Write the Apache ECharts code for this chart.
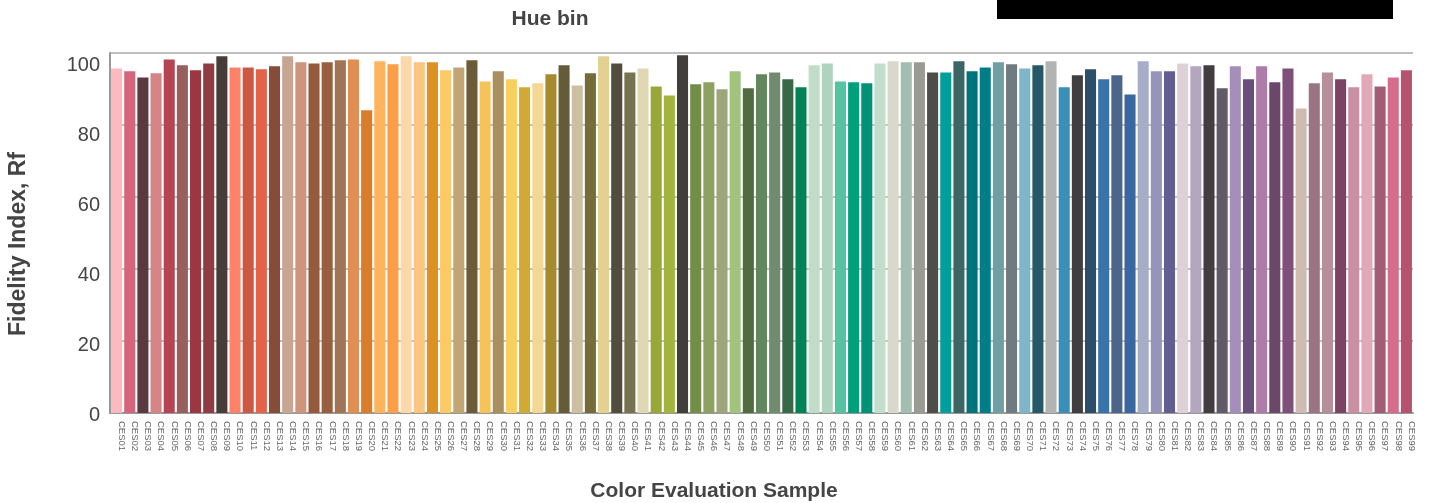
<!DOCTYPE html>
<html>
<head>
<meta charset="utf-8">
<script src="https://cdn.jsdelivr.net/npm/echarts@6/dist/echarts.min.js"></script>
<style>html,body{margin:0;padding:0;background:#fff;}#c{width:1431px;height:503px;}</style>
</head>
<body>
<div id="c"></div>
<script>
const categories = [];
for (let i = 1; i <= 99; i++) categories.push('CES' + (i < 10 ? '0' + i : '' + i));

const rfValues = [
  95.7, 94.9, 93.2, 94.4, 98.2, 96.6, 95.2, 97.1, 99.1, 96.0,
  96.0, 95.5, 96.3, 99.1, 97.4, 97.1, 97.4, 98.0, 98.2, 84.1,
  97.7, 96.9, 99.1, 97.4, 97.4, 95.2, 96.0, 98.0, 92.1, 94.9,
  92.7, 90.5, 91.6, 94.1, 96.6, 91.0, 94.4, 99.1, 97.1, 94.6,
  95.7, 90.7, 88.2, 99.4, 91.3, 91.9, 89.9, 94.9, 90.2, 94.1,
  94.6, 92.7, 90.5, 96.6, 97.1, 92.1, 91.9, 91.6, 97.1, 97.7,
  97.4, 97.4, 94.6, 94.6, 97.7, 94.9, 96.0, 97.4, 96.9, 95.7,
  96.6, 97.7, 90.5, 93.8, 95.5, 92.7, 93.8, 88.5, 97.7, 94.9,
  94.9, 97.1, 96.3, 96.6, 90.2, 96.3, 92.7, 96.3, 91.9, 95.7,
  84.6, 91.6, 94.6, 92.7, 90.5, 94.1, 90.7, 93.2, 95.2
];

const sampleColors = [
  '#fbbac0','#d4657b','#5a3a3e','#d58585','#b54552','#98605d','#9a3741','#8f3c42','#463c3a','#ff8268',
  '#cb5840','#e36249','#874c38','#c6a593','#cf957c','#935a3c','#995e3e','#a17455','#df8f52','#db7c2b',
  '#fdb45c','#fb9e46','#fcd9aa','#fdc57f','#dc9222','#fcc964','#c2a574','#6b5b38','#f6c358','#a98f5e',
  '#f9d060','#d1aa34','#f3d895','#a58a2e','#655a3a','#cdbfa2','#766c3a','#e2d190','#514c3d','#777350',
  '#e0d8b4','#99a73a','#a2b43d','#423f3a','#718d47','#8fa063','#9ea57b','#a0c47e','#506c40','#62875f',
  '#718b6f','#396847','#008457','#c2ddc7','#b0d3c0','#55c2a0','#00a07d','#009179','#c1decd','#d9d9cb',
  '#a3bdb1','#9a9b93','#4f4d48','#009f9c','#3b6664','#00737a','#007d87','#6f9ea3','#6f7b80','#7fb5cb',
  '#27586a','#b3b4b2','#388fb7','#403f3e','#2b4f6b','#3a73aa','#4b6688','#3a67a0','#a6adc8','#9794bc',
  '#625d93','#dcd1d6','#b5a6bf','#433d42','#625a68','#a58eba','#674e7b','#ae7ca8','#6b4768','#7f4f7b',
  '#cebcb3','#9b7483','#b68f9a','#7a4462','#c890a2','#e1a8b7','#a05d75','#d66c8c','#b5526f'
];

const yTicks = { min: 0, max: 100, interval: 20 };

const chart = echarts.init(document.getElementById('c'));
const FONT = 'Liberation Sans, Arial, sans-serif';

chart.setOption({
  animation: false,
  backgroundColor: '#fff',
  title: [
    { text: 'Hue bin', left: 550, top: 9, padding: 0, textAlign: 'center',
      textStyle: { fontFamily: FONT, fontSize: 21, lineHeight: 21, fontWeight: 'bold', color: '#444' } },
    { text: 'Color Evaluation Sample', left: 714, top: 481, padding: 0, textAlign: 'center',
      textStyle: { fontFamily: FONT, fontSize: 21, lineHeight: 21, fontWeight: 'bold', color: '#444' } }
  ],
  graphic: [
    { type: 'rect', left: 997, top: 0, shape: { width: 396, height: 19 }, style: { fill: '#000' } },
    { type: 'text', x: 19, y: 244, rotation: Math.PI / 2,
      style: { text: 'Fidelity Index, Rf', font: 'bold 23px Liberation Sans, Arial, sans-serif',
               fill: '#444', align: 'center', verticalAlign: 'middle' } }
  ],
  grid: [
    { left: 110, right: 18, top: 53, bottom: 90 },
    { left: 110, right: 18, top: 65, bottom: 88 }
  ],
  xAxis: [
    {
      type: 'category', gridIndex: 0, data: categories,
      axisLine: { lineStyle: { color: '#999', width: 2 } },
      axisTick: { show: false },
      axisLabel: { interval: 0, rotate: -90, fontFamily: FONT, fontSize: 9.5, color: '#666', margin: 8, verticalAlign: 'bottom' }
    },
    { type: 'value', gridIndex: 1, show: false, min: 0, max: 1 }
  ],
  yAxis: [
    {
      type: 'value', gridIndex: 0, min: yTicks.min, max: yTicks.max, interval: yTicks.interval,
      axisLine: { show: true, lineStyle: { color: '#999', width: 2 } },
      axisTick: { show: false },
      axisLabel: { show: false },
      splitLine: { lineStyle: { color: '#aaa', width: 1.5 } }
    },
    {
      type: 'value', gridIndex: 1, min: yTicks.min, max: yTicks.max, interval: yTicks.interval,
      axisLine: { show: false }, axisTick: { show: false }, splitLine: { show: false },
      axisLabel: { fontFamily: FONT, fontSize: 20, color: '#444', margin: 10 }
    }
  ],
  series: [
    {
      type: 'bar', xAxisIndex: 0, yAxisIndex: 0,
      barCategoryGap: '16%',
      data: rfValues.map((v, i) => ({ value: v, itemStyle: { color: sampleColors[i] } }))
    },
    { type: 'scatter', xAxisIndex: 1, yAxisIndex: 1, data: [], silent: true }
  ]
});
</script>
</body>
</html>
